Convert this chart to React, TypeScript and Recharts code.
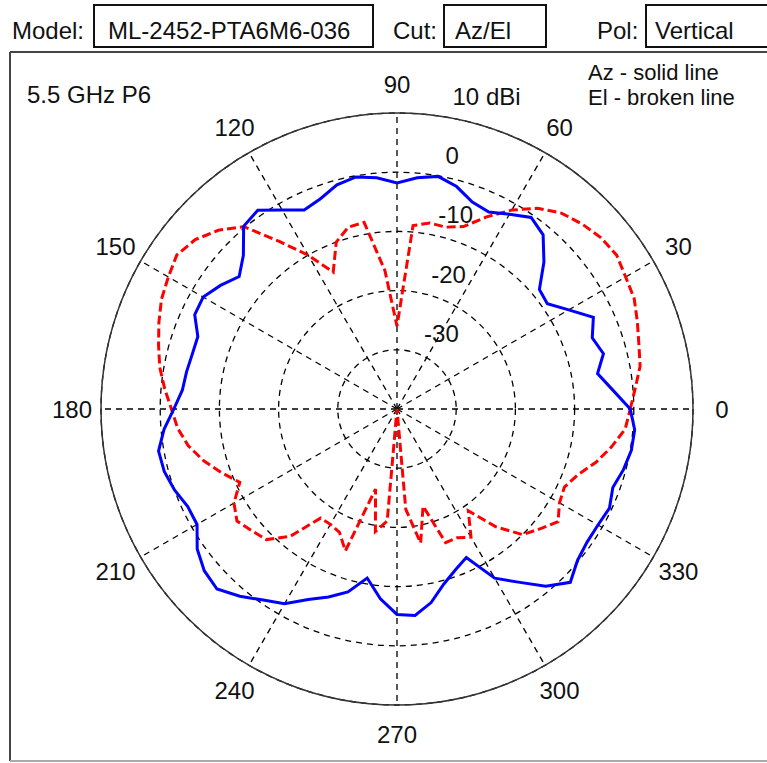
import { RadarChart, Radar, PolarGrid, PolarAngleAxis, PolarRadiusAxis } from 'recharts'

const angles = [
  0, 5, 10, 15, 20, 25, 30, 35, 40, 45, 50, 55,
  60, 65, 70, 75, 80, 85, 90, 95, 100, 105, 110, 115,
  120, 125, 130, 135, 140, 145, 150, 155, 160, 165, 170, 175,
  180, 185, 190, 195, 200, 205, 210, 215, 220, 225, 230, 235,
  240, 245, 250, 255, 260, 265, 270, 275, 280, 285, 290, 295,
  300, 305, 310, 315, 320, 325, 330, 335, 340, 345, 350, 355,
]

// Az cut, dBi (solid blue)
const azGain = [
  -0.6, -3.4, -5.6, -3.9, -4.9, -3.4, -6.5, -9.0, -8.6, -4.9, -1.6, -0.5,
  -2.0, -3.3, -2.8, -1.1, -0.1, -0.8, -1.8, -0.8, -0.2, -0.8, -2.2, -2.9,
  -1.2, 1.0, 0.3, -3.3, -5.2, -3.6, -2.2, -2.3, -4.2, -4.2, -3.9, -3.6,
  -2.3, -0.5, 0.9, 0.7, 0.0, -1.0, -1.0, 1.2, 2.5, 3.0, 1.3, -0.6,
  -2.0, -4.5, -6.2, -8.0, -11.0, -7.8, -5.3, -5.0, -6.8, -9.4, -11.1, -12.3,
  -7.0, -4.3, -0.9, 1.4, -0.2, -0.8, -0.8, -0.4, -1.2, -0.4, 0.2, 0.3,
]

// El cut, dBi (broken red)
const elGain = [
  -0.6, 0.4, 1.7, 2.3, 3.2, 4.2, 4.6, 5.3, 5.0, 4.2, 3.2, 1.4,
  -1.2, -4.2, -7.2, -8.2, -8.1, -8.9, -26, -16.5, -8.0, -8.2, -10.0, -14.5,
  -10.0, -5.5, 0.2, 2.7, 4.5, 5.4, 4.6, 3.9, 2.8, 1.7, 0.7, -0.6,
  -1.9, -2.8, -4.2, -6.2, -8.5, -10.7, -8.2, -7.0, -8.0, -8.8, -11.9, -17.5,
  -17.5, -17.0, -14.5, -26, -19, -21, -40, -23, -17, -23, -16, -16,
  -15, -19, -14, -10, -8.5, -6.8, -8.3, -8.8, -7.5, -5.2, -3.2, -1.3,
]

const angleTicks = [0, 30, 60, 90, 120, 150, 180, 210, 240, 270, 300, 330]
const gainTicks = [-30, -20, -10, 0, 10]

const data = angles.map((angle, i) => ({ angle, az: azGain[i], el: elGain[i] }))

const FONT = '"Liberation Sans", Arial, sans-serif'
const CX = 397
const CY = 409
const R = 296

function AngleTick({ x, y, payload }: { x?: number; y?: number; payload?: { value: number } }) {
  return (
    <text x={x} y={y} textAnchor="middle" dominantBaseline="central" fontFamily={FONT} fontSize={24} fill="#111">
      {payload?.value}
    </text>
  )
}

function GainTick({ x = 0, y = 0, payload }: { x?: number; y?: number; payload?: { value: number } }) {
  const r = CY - y
  const v = payload?.value
  return (
    <text x={x + 20 + 0.12 * r} y={y - 8} textAnchor="start" fontFamily={FONT} fontSize={24} fill="#111">
      {v === 10 ? '10 dBi' : v}
    </text>
  )
}

export default function App() {
  const txt = { fontFamily: FONT, fontSize: 24, fill: '#111' }
  return (
    <div style={{ position: 'absolute', left: 0, top: 0, width: 767, height: 763, overflow: 'hidden', background: '#fff' }}>
      <svg width={767} height={763} style={{ position: 'absolute', left: 0, top: 0 }}>
        <text x={12} y={39} {...txt}>Model:</text>
        <rect x={94} y={5} width={279} height={42} fill="none" stroke="#111" strokeWidth={2} />
        <text x={108} y={39} {...txt}>ML-2452-PTA6M6-036</text>
        <text x={393} y={39} {...txt}>Cut:</text>
        <rect x={444} y={5} width={102} height={42} fill="none" stroke="#111" strokeWidth={2} />
        <text x={455} y={39} {...txt}>Az/El</text>
        <text x={597} y={39} {...txt}>Pol:</text>
        <rect x={646} y={5} width={140} height={42} fill="none" stroke="#111" strokeWidth={2} />
        <text x={655} y={39} {...txt}>Vertical</text>
        <line x1={10} y1={52} x2={767} y2={52} stroke="#444" strokeWidth={2} />
        <line x1={10} y1={52} x2={10} y2={761} stroke="#444" strokeWidth={2} />
        <line x1={10} y1={761} x2={767} y2={761} stroke="#aaa" strokeWidth={2} />
        <text x={27} y={103} {...txt}>5.5 GHz P6</text>
        <text x={588} y={80} {...txt} fontSize={22}>Az - solid line</text>
        <text x={588} y={105} {...txt} fontSize={22}>El - broken line</text>
      </svg>
      <div style={{ position: 'absolute', left: 0, top: 0 }}>
        <RadarChart
          width={767}
          height={763}
          data={data}
          cx={CX}
          cy={CY}
          outerRadius={R}
          startAngle={0}
          endAngle={360}
          margin={{ top: 0, right: 0, bottom: 0, left: 0 }}
        >
          <PolarGrid gridType="circle" polarAngles={angleTicks} stroke="#000" strokeWidth={1.3} strokeDasharray="6 5" />
          <PolarGrid gridType="circle" polarAngles={[]} polarRadius={[R]} radialLines={false} stroke="#333" strokeWidth={1.5} />
          <PolarAngleAxis
            dataKey="angle"
            type="number"
            scale="linear"
            domain={[0, 360]}
            ticks={angleTicks}
            tick={<AngleTick />}
            tickSize={29}
            tickLine={false}
            axisLine={false}
          />
          <PolarRadiusAxis
            angle={90}
            type="number"
            domain={[-40, 10]}
            ticks={gainTicks}
            tick={<GainTick />}
            tickLine={false}
            axisLine={false}
          />
          <Radar dataKey="el" stroke="#ff0000" strokeWidth={3} strokeDasharray="9 4" fill="none" dot={false} isAnimationActive={false} />
          <Radar dataKey="az" stroke="#0000ff" strokeWidth={3} fill="none" dot={false} isAnimationActive={false} />
        </RadarChart>
      </div>
    </div>
  )
}
